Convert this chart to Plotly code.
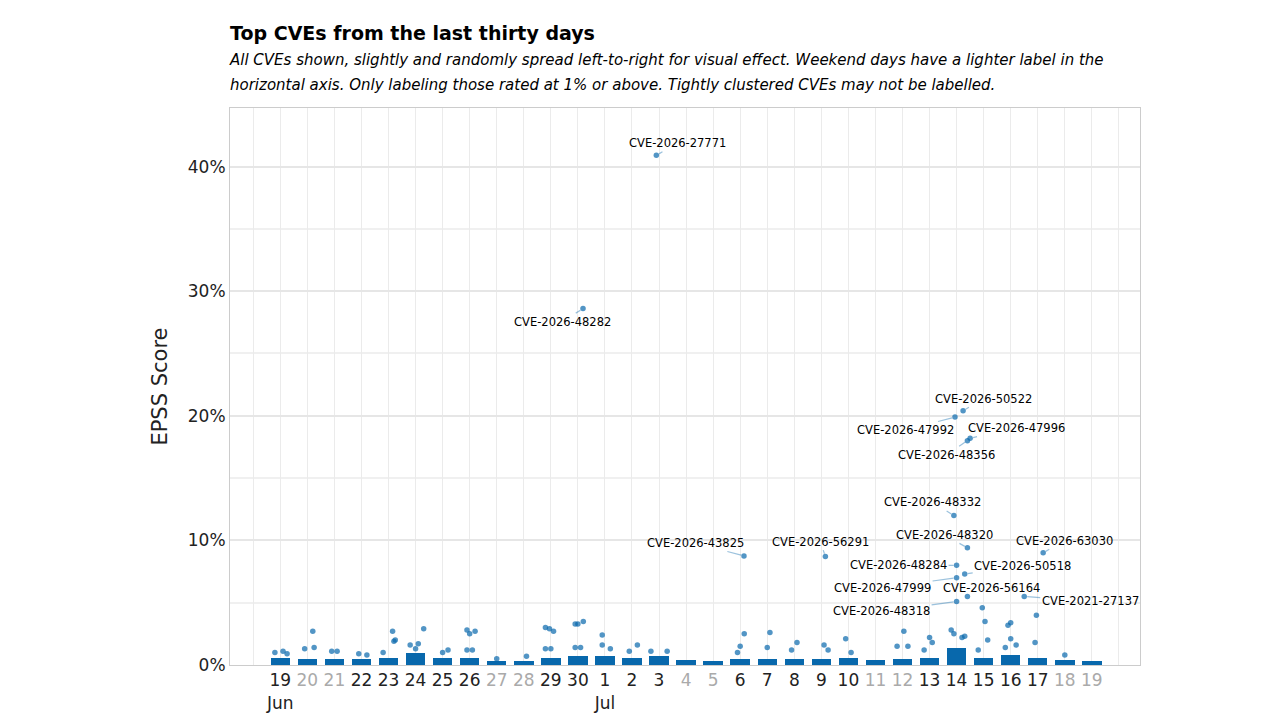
import plotly.graph_objects as go

# day index 0 = Jun 19 ... 30 = Jul 19
day_labels = ["19<br>Jun", "20", "21", "22", "23", "24", "25", "26", "27", "28", "29", "30",
              "1<br>Jul", "2", "3", "4", "5", "6", "7", "8", "9", "10", "11", "12", "13",
              "14", "15", "16", "17", "18", "19"]
weekend_days = [1, 2, 8, 9, 15, 16, 22, 23, 29, 30]

# height (%) of the dense mass of low-scored CVEs per day
band_top = [0.6, 0.5, 0.5, 0.5, 0.6, 1.0, 0.6, 0.6, 0.3, 0.3, 0.6, 0.7, 0.7, 0.6, 0.7, 0.4,
            0.35, 0.5, 0.5, 0.5, 0.5, 0.6, 0.4, 0.5, 0.6, 1.4, 0.6, 0.8, 0.6, 0.4, 0.3]

# scattered unlabeled points above the mass
extra_day = [0, 0, 0, 1, 1, 1, 2, 2, 3, 3, 4, 4, 4, 4, 5, 5, 5, 5, 6, 6, 7, 7, 7, 7, 7, 8, 9,
             10, 10, 10, 10, 10, 11, 11, 11, 11, 11, 12, 12, 12, 13, 13, 14, 14, 17, 17, 17,
             18, 18, 19, 19, 20, 20, 21, 21, 23, 23, 23, 24, 24, 24, 25, 25, 25, 25,
             26, 26, 26, 26, 27, 27, 27, 27, 27, 28, 28, 29]
extra_offset = [-0.2, 0.1, 0.25, 0.2, -0.1, 0.25, -0.1, 0.1, -0.1, 0.2, 0.15, 0.2, 0.25, -0.2,
                0.3, 0.1, 0.0, -0.2, 0.0, 0.2, -0.1, 0.0, 0.2, -0.1, 0.1, 0.0, 0.1,
                -0.2, -0.05, 0.1, -0.2, 0.0, -0.1, 0.0, 0.2, -0.1, 0.1, -0.1, -0.1, 0.2,
                -0.1, 0.2, -0.3, 0.3, 0.15, 0.0, -0.1, 0.1, 0.0, 0.1, -0.1, 0.1, 0.25,
                -0.1, 0.1, 0.05, -0.2, 0.2, 0.0, 0.1, -0.2, -0.2, -0.1, 0.2, 0.3,
                -0.05, 0.05, 0.15, -0.2, -0.1, 0.0, 0.0, -0.2, 0.2, -0.05, -0.1, 0.0]
extra_value = [1.0, 1.1, 0.9, 2.7, 1.3, 1.4, 1.1, 1.1, 0.9, 0.8, 2.7, 1.9, 2.0, 1.0, 2.9, 1.7,
               1.3, 1.6, 1.0, 1.2, 2.8, 2.5, 2.7, 1.2, 1.2, 0.5, 0.7, 3.0, 2.9, 2.7, 1.3,
               1.3, 3.3, 3.3, 3.5, 1.4, 1.4, 2.4, 1.6, 1.3, 1.1, 1.6, 1.1, 1.1, 2.5, 1.5,
               1.0, 2.6, 1.4, 1.8, 1.2, 1.6, 1.2, 2.1, 1.0, 2.7, 1.5, 1.5, 2.2, 1.8, 1.2,
               2.8, 2.5, 2.2, 2.3, 4.6, 3.5, 2.0, 1.2, 3.2, 3.4, 2.1, 1.4, 1.6, 4.0, 1.8, 0.8]

# labelled CVEs
cve_names = ["CVE-2026-27771", "CVE-2026-48282", "CVE-2026-43825", "CVE-2026-56291",
             "CVE-2026-50522", "CVE-2026-47992", "CVE-2026-47996", "CVE-2026-48356",
             "CVE-2026-48332", "CVE-2026-48320", "CVE-2026-48284", "CVE-2026-50518",
             "CVE-2026-47999", "CVE-2026-56164", "CVE-2026-48318", "CVE-2026-63030",
             "CVE-2021-27137"]
cve_day = [13.9, 11.19, 17.14, 20.15, 25.24, 24.94, 25.5, 25.4, 24.9, 25.4, 25.0, 25.3, 25.0,
           25.4, 25.0, 28.2, 27.5]
cve_score = [40.9, 28.6, 8.75, 8.7, 20.4, 19.9, 18.2, 18.0, 12.0, 9.4, 8.0, 7.3, 7.0, 5.5,
             5.1, 9.0, 5.5]
label_dx = [21, -21, -48, -5, 20, -49, 46, -21, -21, -23, -58, 58, -74, 24, -75, 21, 66]
label_dy = [-12, 13, -13, -15, -12, 13, -10, 14, -13, -13, 0, -8, 10, -8, 10, -12, 5]

POINT = "rgba(8,104,172,0.7)"
FONT = "DejaVu Sans"

fig = go.Figure()
fig.add_trace(go.Bar(x=list(range(len(band_top))), y=[v / 100 for v in band_top], width=0.72,
                     marker=dict(color="rgb(8,104,172)", line=dict(width=0)), hoverinfo="skip"))
fig.add_trace(go.Scatter(
    x=[d + o for d, o in zip(extra_day, extra_offset)], y=[v / 100 for v in extra_value],
    mode="markers", marker=dict(size=5.5, color=POINT), hoverinfo="skip"))
fig.add_trace(go.Scatter(
    x=cve_day, y=[v / 100 for v in cve_score], mode="markers", text=cve_names,
    marker=dict(size=5.5, color=POINT)))

for name, d, s, dx, dy in zip(cve_names, cve_day, cve_score, label_dx, label_dy):
    fig.add_annotation(x=d, y=s / 100, text=name, ax=dx, ay=dy, showarrow=True, arrowhead=0,
                       arrowwidth=1.2, arrowcolor="rgba(8,104,172,0.4)", standoff=3,
                       font=dict(family=FONT, size=11.5, color="black"))

tickvals = list(range(-1, 32))
ticktext = [""] + [f"<span style='color:#aaaaaa'>{t}</span>" if i in weekend_days else t
                   for i, t in enumerate(day_labels)] + [""]

fig.update_layout(
    width=1280, height=720,
    paper_bgcolor="white", plot_bgcolor="white",
    showlegend=False, bargap=0,
    margin=dict(l=222, r=148, t=100, b=63),
    font=dict(family=FONT, color="#222222"),
    title=dict(
        text="<b>Top CVEs from the last thirty days</b><br><span style='font-size:15px'><i>"
             "All CVEs shown, slightly and randomly spread left-to-right for visual effect. "
             "Weekend days have a lighter label in the<br>horizontal axis. Only labeling those "
             "rated at 1% or above. Tightly clustered CVEs may not be labelled.</i></span>",
        x=222 / 1280, xanchor="left", y=0.955, yanchor="top",
        font=dict(family=FONT, size=19, color="black")),
    xaxis=dict(range=[-1.86, 31.78], tickvals=tickvals, ticktext=ticktext, automargin=False,
               tickfont=dict(size=17, color="#222222"), showgrid=True, gridcolor="#ebebeb",
               zeroline=False, showline=True, linecolor="#cccccc", mirror=True, ticks=""),
    yaxis=dict(range=[0, 0.447], tickformat=".0%", dtick=0.1, tickfont=dict(size=17),
               automargin=False,
               title=dict(text="EPSS Score", font=dict(size=21), standoff=14),
               showgrid=True, gridcolor="#e6e6e6", gridwidth=1.6,
               minor=dict(dtick=0.05, showgrid=True, gridcolor="#f0f0f0"),
               zeroline=False, showline=True, linecolor="#cccccc", mirror=True, ticks=""),
)

fig.write_html("out.html")
